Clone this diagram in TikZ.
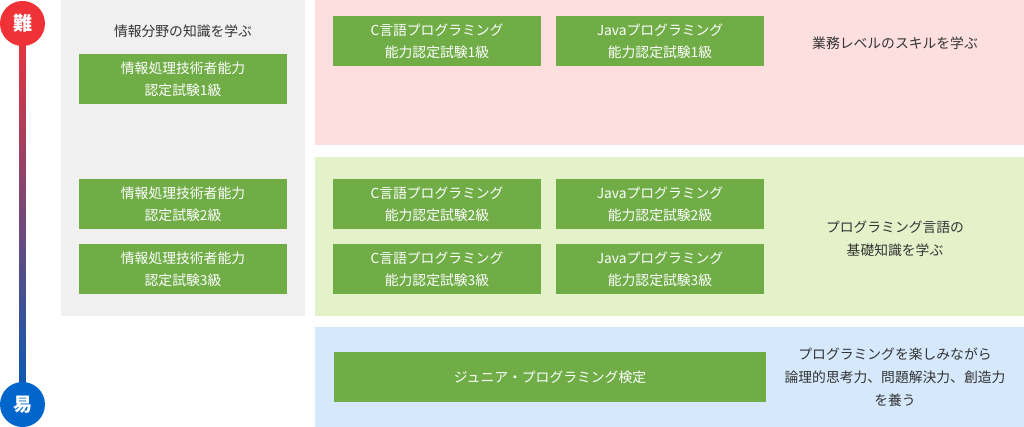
\documentclass[tikz,border=0pt]{standalone}
\usepackage{fontspec}
\setmainfont{Noto Sans CJK JP}
\usetikzlibrary{calc}

\definecolor{hardRed}{HTML}{EF3237}
\definecolor{easyBlue}{HTML}{0066CC}
\definecolor{boxGreen}{HTML}{70AD47}
\definecolor{infoGray}{HTML}{F0F0F0}
\definecolor{bizPink}{HTML}{FDDFE0}
\definecolor{basicGreen}{HTML}{E4F2CA}
\definecolor{juniorBlue}{HTML}{D6E9FC}
\definecolor{textGray}{HTML}{333333}

\newcommand*{\boxW}{208}
\newcommand*{\boxH}{50}
\newcommand*{\colInfo}{183}
\newcommand*{\colC}{437}
\newcommand*{\colJava}{660}
\newcommand*{\colNote}{895}

\tikzset{
	exam/.style={fill=boxGreen, text=white, inner sep=0pt, align=center,
		minimum width=\boxW pt, minimum height=\boxH pt,
		font=\fontsize{13.8}{22}\selectfont},
	note/.style={text=textGray, align=center, inner sep=0pt,
		font=\fontsize{13.8}{23}\selectfont},
	level/.style={circle, inner sep=0pt, minimum size=45pt, text=white,
		font=\fontsize{19}{19}\selectfont\bfseries}
}

\begin{document}
\begin{tikzpicture}[x=1pt,y=-1pt]
	\useasboundingbox (0,0) rectangle (1024,427);

	% panels
	\fill [infoGray] (61,0) rectangle (305,316);
	\fill [bizPink] (315,0) rectangle (1024,145);
	\fill [basicGreen] (315,157) rectangle (1024,316);
	\fill [juniorBlue] (315,327) rectangle (1024,427);

	% scale from hard to easy
	\coordinate (hardC) at (22.5,23.5);
	\coordinate (easyC) at (22.5,404.5);
	\shade [top color=hardRed, bottom color=easyBlue!90!black]
		($(hardC)+(-3,0)$) rectangle ($(easyC)+(3,0)$);
	\node [level, fill=hardRed] (hard) at (hardC) {難};
	\node [level, fill=easyBlue] (easy) at (easyC) {易};

	% information technology exams
	\node [note] (infoNote) at (\colInfo,31) {情報分野の知識を学ぶ};
	\node [exam] (ipa1) at (\colInfo,79.5) {情報処理技術者能力\\認定試験1級};

	% programming language exams
	\node [exam] (c1) at (\colC,41) {C言語プログラミング\\能力認定試験1級};
	\node [exam] (java1) at (\colJava,41) {Javaプログラミング\\能力認定試験1級};
	\foreach \g/\yy in {2/204,3/269} {
		\node [exam] (ipa\g) at (\colInfo,\yy) {情報処理技術者能力\\認定試験\g 級};
		\node [exam] (c\g) at (\colC,\yy) {C言語プログラミング\\能力認定試験\g 級};
		\node [exam] (java\g) at (\colJava,\yy) {Javaプログラミング\\能力認定試験\g 級};
	}
	\node [exam, minimum width=432pt] (junior) at (550,377) {ジュニア・プログラミング検定};

	% notes on the right
	\node [note] (bizNote) at (\colNote,43) {業務レベルのスキルを学ぶ};
	\node [note] (basicNote) at (\colNote,239) {プログラミング言語の\\基礎知識を学ぶ};
	\node [note] (juniorNote) at (\colNote,377) {プログラミングを楽しみながら\\論理的思考力、問題解決力、創造力\\を養う};
\end{tikzpicture}
\end{document}
